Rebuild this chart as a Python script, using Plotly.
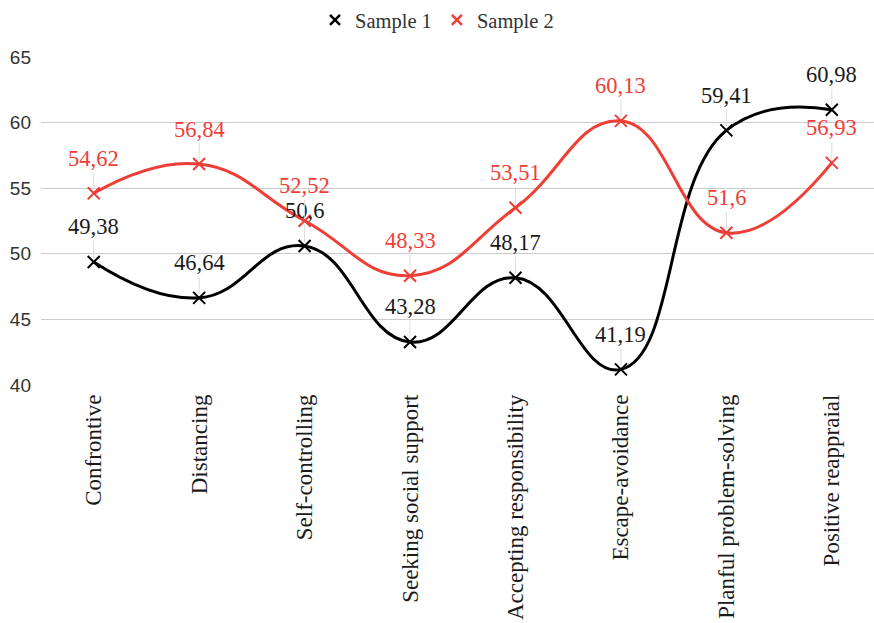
import plotly.graph_objects as go

categories = ["Confrontive", "Distancing", "Self-controlling", "Seeking social support",
              "Accepting responsibility", "Escape-avoidance", "Planful problem-solving",
              "Positive reappraial"]
sample1 = [49.38, 46.64, 50.6, 43.28, 48.17, 41.19, 59.41, 60.98]
sample2 = [54.62, 56.84, 52.52, 48.33, 53.51, 60.13, 51.6, 56.93]
series = [("Sample 1", sample1, "#000000", "#1a1a1a"),
          ("Sample 2", sample2, "#ef3e36", "#ef3e36")]
y_ticks = [40, 45, 50, 55, 60, 65]

SERIF = "Liberation Serif, Times New Roman, serif"
fig = go.Figure()
annotations = []
for name, vals, col, tcol in series:
    fig.add_trace(go.Scatter(
        x=list(range(len(categories))), y=vals, mode="lines+markers", name=name,
        line=dict(color=col, width=3, shape="spline", smoothing=1.3),
        marker=dict(symbol="x-thin", size=12, line=dict(color=col, width=2), color=col),
        showlegend=False, cliponaxis=False))
    fig.add_trace(go.Scatter(
        x=[None], y=[None], mode="markers", name=name,
        marker=dict(symbol="x-thin", size=10, line=dict(color=col, width=2.5), color=col)))
    for i, v in enumerate(vals):
        annotations.append(dict(
            x=i, y=v, xref="x", yref="y", text=str(v).replace(".", ","),
            showarrow=True, arrowhead=0, arrowwidth=1, arrowcolor="#dddddd",
            ax=0, ay=-35, standoff=4,
            font=dict(family=SERIF, size=22.5, color=tcol)))

fig.update_layout(
    width=874, height=623,
    margin=dict(l=41, r=0, t=57, b=238, autoexpand=False),
    plot_bgcolor="white", paper_bgcolor="white",
    annotations=annotations,
    legend=dict(orientation="h", x=0.5, xanchor="center", xref="container",
                y=0.968, yanchor="middle", yref="container",
                font=dict(family=SERIF, size=20.5, color="#333333"),
                itemwidth=30),
    xaxis=dict(range=[-0.5, 7.4], tickmode="array",
               tickvals=list(range(len(categories))), ticktext=categories,
               tickangle=-90, showgrid=False, zeroline=False, showline=False,
               ticks="", ticklabelstandoff=4, automargin=False,
               tickfont=dict(family=SERIF, size=23, color="#1a1a1a")),
    yaxis=dict(range=[40, 65], tickvals=y_ticks, showgrid=True,
               gridcolor="#cccccc", gridwidth=1, zeroline=False, showline=False,
               ticks="", ticklabelstandoff=9, automargin=False,
               tickfont=dict(family="Liberation Sans, Arial, sans-serif", size=19,
                             color="#333333")),
)
fig.write_html("out.html")
